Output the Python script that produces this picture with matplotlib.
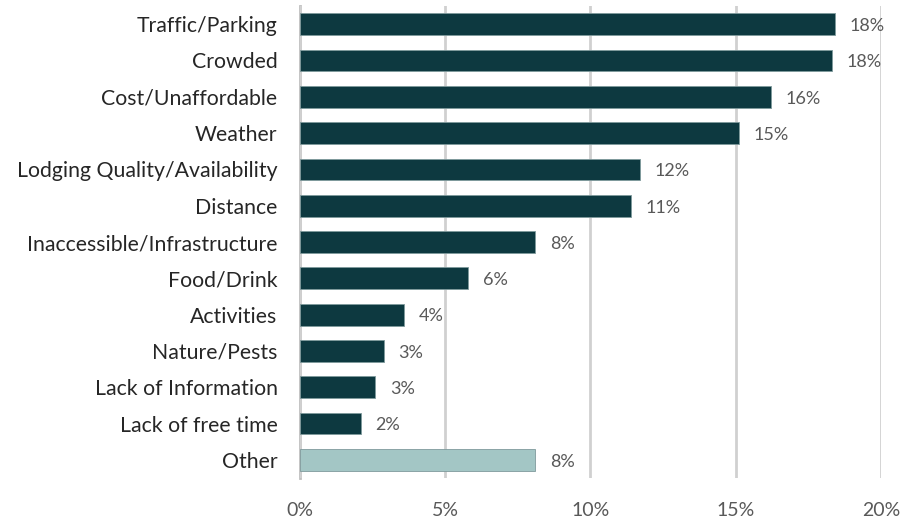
import matplotlib
matplotlib.use("Agg")
import matplotlib.pyplot as plt
from matplotlib.ticker import FuncFormatter

categories = [
    "Traffic/Parking", "Crowded", "Cost/Unaffordable", "Weather",
    "Lodging Quality/Availability", "Distance", "Inaccessible/Infrastructure",
    "Food/Drink", "Activities", "Nature/Pests", "Lack of Information",
    "Lack of free time", "Other",
]
values = [18.4, 18.3, 16.2, 15.1, 11.7, 11.4, 8.1, 5.8, 3.6, 2.9, 2.6, 2.1, 8.1]
x_ticks = [0, 5, 10, 15, 20]

dark = "#0d3940"
light = "#a3c6c5"
colors = [light if c == "Other" else dark for c in categories]

plt.rcParams["font.family"] = ["Lato", "DejaVu Sans"]

fig = plt.figure(figsize=(9.03, 5.23), dpi=100)
ax = fig.add_axes([0.332, 0.086, 0.6437, 0.9025])

y = list(range(len(categories)))
ax.barh(y, values, height=0.6, color=colors, edgecolor="#7f9a9c", linewidth=0.6, zorder=3)

for yi, v in zip(y, values):
    ax.text(v + 0.5, yi + 0.05, f"{v:.0f}%", va="center", ha="left",
            fontsize=13, color="#595959", zorder=4)

ax.set_ylim(len(categories) - 0.5, -0.5)
ax.set_xlim(0, 20)
ax.set_yticks(y)
ax.set_yticklabels(categories, fontsize=15.3, color="#262626")
ax.set_xticks(x_ticks)
ax.xaxis.set_major_formatter(FuncFormatter(lambda v, p: f"{v:.0f}%"))
ax.tick_params(axis="x", labelsize=14, labelcolor="#595959", length=0, pad=17)
ax.tick_params(axis="y", length=0, pad=16)

ax.grid(axis="x", color="#d0d0d0", linewidth=2, zorder=0)
for s in ["top", "right", "bottom"]:
    ax.spines[s].set_visible(False)
ax.spines["left"].set_color("#bfbfbf")
ax.spines["left"].set_linewidth(2)
ax.spines["left"].set_zorder(1)

fig.savefig("out.png", dpi=100, facecolor="white")
